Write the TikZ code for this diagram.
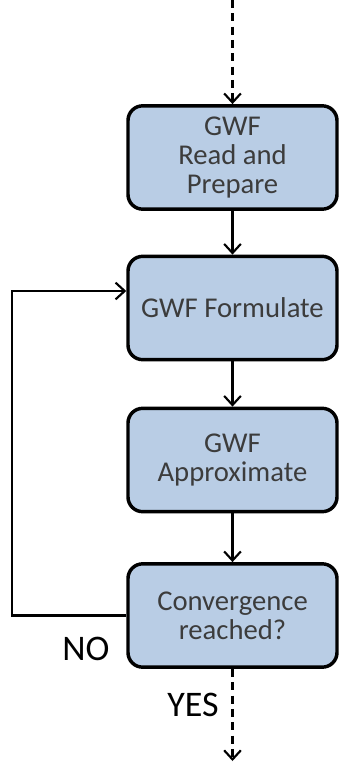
\documentclass[tikz,border=0pt]{standalone}
\usepackage{fontspec}
\setmainfont{Carlito}
\usetikzlibrary{arrows.meta,positioning}
\definecolor{boxblue}{HTML}{B9CDE5}
\definecolor{ink}{HTML}{3C3C3C}
\tikzset{box/.style={draw=black,line width=2.6pt,fill=boxblue,rounded corners=11pt,align=center,text=ink,font=\fontsize{21.5}{21.5}\selectfont,minimum width=156.75pt,minimum height=77.5pt,inner sep=2pt},arr/.style={-{Straight Barb[length=2.4mm,width=4.4mm,line width=1.6pt]},line width=1.8pt,draw=black},dasharr/.style={arr,dash pattern=on 6pt off 4pt},lbl/.style={font=\fontsize{27}{28}\selectfont,text=black}}
\begin{document}
\begin{tikzpicture}[x=0.75pt,y=-0.75pt]
\useasboundingbox (0,0) rectangle (339,762);
\node[box] (read) at (232.5,157.5) {GWF\\Read and\\Prepare};
\node[box] (form) at (232.5,308) {GWF Formulate};
\node[box] (approx) at (232.5,460) {GWF\\Approximate};
\node[box] (conv) at (232.5,615.5) {Convergence\\reached?};
\coordinate (start) at (232.5,0);
\coordinate (finish) at (232.5,761);
\coordinate (loop) at (12,291);
\draw[dasharr] (start) -- (read);
\draw[arr] (read) -- (form);
\draw[arr] (form) -- (approx);
\draw[arr] (approx) -- (conv);
\draw[arr] (conv.west) -| (loop) -- (form.west |- loop);
\draw[dasharr] (conv) -- (finish);
\node[lbl] (no) at (86,649) {NO};
\node[lbl] (yes) at (193,705) {YES};
\end{tikzpicture}
\end{document}
